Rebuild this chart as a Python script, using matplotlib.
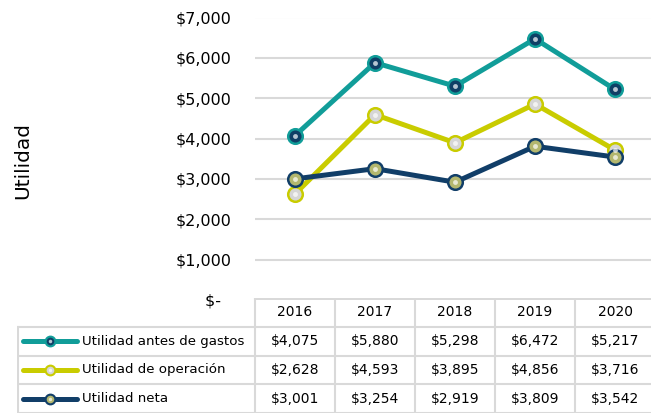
import matplotlib.pyplot as plt
from matplotlib.ticker import FuncFormatter

years = ["2016", "2017", "2018", "2019", "2020"]
antes_gastos = [4075, 5880, 5298, 6472, 5217]
operacion = [2628, 4593, 3895, 4856, 3716]
neta = [3001, 3254, 2919, 3809, 3542]

series = [
	("Utilidad antes de gastos", antes_gastos, "#119d99", "#0f3f66"),
	("Utilidad de operación", operacion, "#c9cc00", "#d6d6d6"),
	("Utilidad neta", neta, "#113e68", "#b3b76e"),
]

W, H = 651, 413
fig = plt.figure(figsize=(W / 100, H / 100), dpi=100)
plt.rcParams["font.family"] = "DejaVu Sans"

def fx(px): return px / W
def fy(py): return 1 - py / H

# chart area: x=-0.5 at 255px, 80px per year; y=0 at 300px, 7000 at 17.5px
left, right, top, bottom = 255, 655, 17.5, 300
ax = fig.add_axes([fx(left), fy(bottom), fx(right - left), (bottom - top) / H])
ax.set_xlim(-0.5, 4.5)
ax.set_ylim(0, 7000)
ax.set_yticks(range(0, 7001, 1000))
ax.yaxis.set_major_formatter(FuncFormatter(lambda v, p: "$-  " if v == 0 else "${:,.0f}".format(v)))
ax.tick_params(axis="y", length=0, labelsize=11.5, pad=17)
ax.set_xticks([])
for s in ax.spines.values():
	s.set_visible(False)
ax.grid(axis="y", color="#d9d9d9", lw=1.5)
ax.set_axisbelow(True)
ax.patch.set_alpha(0)

x = range(len(years))
for label, vals, col, face in series:
	ax.plot(x, vals, color=col, lw=3.6, marker="o", ms=10.5, mfc=face, mec=col, mew=1.8, zorder=3)
	ax.plot(x, vals, ls="none", marker="o", ms=3.5, mfc="white", mec="none", alpha=0.7, zorder=4)

fig.text(fx(23), fy(160), "Utilidad", rotation=90, ha="center", va="center", fontsize=14.5)

# data table under the chart, sharing the year columns
tleft = 17
tax = fig.add_axes([fx(tleft), 0, fx(right - tleft), fy(298)])
tax.set_xlim((tleft - 295) / 80, 4.5)
tax.set_ylim(3, -1)  # header row -1..0, then three rows
tax.axis("off")
grid = "#d9d9d9"
x0 = tax.get_xlim()[0] + 0.01
tax.plot([-0.5, 4.5], [-1, -1], color=grid, lw=1.5)
for i in range(6):
	tax.plot([i - 0.5, i - 0.5], [-1, 3], color=grid, lw=1.5)
for r in range(4):
	tax.plot([x0, 4.5], [r, r], color=grid, lw=1.5)
tax.plot([x0, x0], [0, 3], color=grid, lw=1.5)
for i, y in enumerate(years):
	tax.text(i, -0.5, y, ha="center", va="center", fontsize=10)
for r, (label, vals, col, face) in enumerate(series):
	yc = r + 0.5
	tax.plot([-3.4, -2.72], [yc, yc], color=col, lw=3.6, solid_capstyle="round")
	tax.plot([-3.06], [yc], marker="o", ms=7, mfc=face, mec=col, mew=1.5)
	tax.plot([-3.06], [yc], marker="o", ms=2.5, mfc="white", mec="none", alpha=0.7)
	tax.text(-2.66, yc, label, ha="left", va="center", fontsize=9.6)
	for i, v in enumerate(vals):
		tax.text(i, yc, "${:,}".format(v), ha="center", va="center", fontsize=10)

fig.savefig("out.png", dpi=100)
